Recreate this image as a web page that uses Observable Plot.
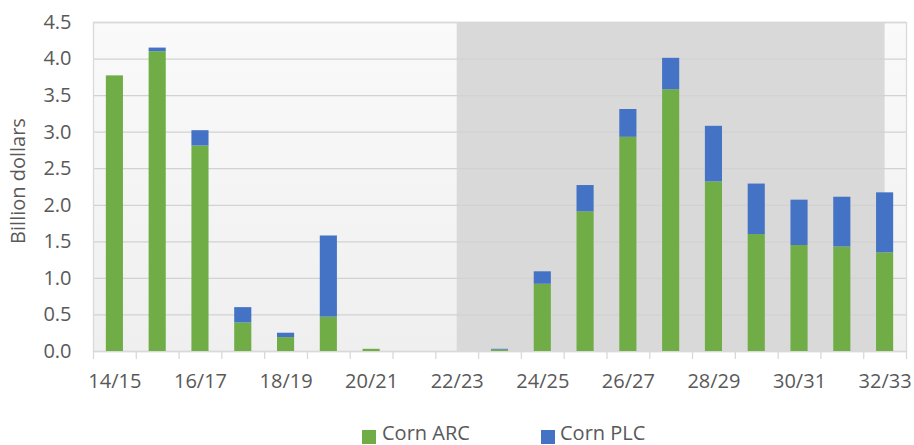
<!DOCTYPE html>
<html><head><meta charset="utf-8">
<script src="https://cdn.jsdelivr.net/npm/d3@7"></script>
<script src="https://cdn.jsdelivr.net/npm/@observablehq/plot@0.6"></script>
<style>
body{margin:0;background:#fff;font-family:"Open Sans",sans-serif;}
#wrap{position:relative;width:914px;height:445px;overflow:hidden;background:#fff;}
#chart svg{display:block;}
.lg-sw{position:absolute;width:14px;height:14px;top:430px;}
.lg-tx{position:absolute;top:423px;font-size:20px;line-height:20px;color:#595959;white-space:nowrap;}
</style></head>
<body><div id="wrap"><div id="chart"></div><div id="legend"></div></div>
<script>
const categories = ["14/15","15/16","16/17","17/18","18/19","19/20","20/21","21/22","22/23","23/24","24/25","25/26","26/27","27/28","28/29","29/30","30/31","31/32","32/33"];
const cornARC = [3.77, 4.10, 2.81, 0.39, 0.19, 0.47, 0.03, 0, 0, 0.02, 0.92, 1.91, 2.93, 3.58, 2.32, 1.60, 1.45, 1.43, 1.35];
const cornPLC = [0, 0.05, 0.21, 0.21, 0.06, 1.11, 0, 0, 0, 0.01, 0.17, 0.36, 0.38, 0.43, 0.76, 0.69, 0.62, 0.68, 0.82];
const seriesNames = ["Corn ARC", "Corn PLC"];
const seriesColors = ["#70AD47", "#4472C4"];
const yTicks = [0, 0.5, 1.0, 1.5, 2.0, 2.5, 3.0, 3.5, 4.0, 4.5];
const xTickLabels = ["14/15","16/17","18/19","20/21","22/23","24/25","26/27","28/29","30/31","32/33"];
const shadedCats = ["22/23","23/24","24/25","25/26","26/27","27/28","28/29","29/30","30/31","31/32","32/33"];
const yTitle = "Billion dollars";

const rows = [];
categories.forEach((c, i) => { rows.push({year: c, program: seriesNames[0], value: cornARC[i]}); });
categories.forEach((c, i) => { rows.push({year: c, program: seriesNames[1], value: cornPLC[i]}); });

const W = 914, H = 410, mL = 93, mR = 8, mT = 22, mB = 59;
const step = (W - mL - mR) / categories.length;

const chart = Plot.plot({
  width: W, height: H,
  marginLeft: mL, marginRight: mR, marginTop: mT, marginBottom: mB,
  style: {fontFamily: '"Open Sans", sans-serif', fontSize: "20px", color: "#595959", background: "transparent", overflow: "visible"},
  x: {type: "band", domain: categories, paddingInner: 0.6, paddingOuter: 0.3, align: 0.5, round: false,
      tickSize: 0, tickPadding: 22, label: null,
      tickFormat: d => xTickLabels.includes(d) ? d : ""},
  y: {domain: [0, 4.5], ticks: yTicks, tickFormat: d => d.toFixed(1), tickSize: 0, tickPadding: 22,
      label: null},
  color: {domain: seriesNames, range: seriesColors},
  marks: [
    Plot.frame({fill: "url(#plotBg)"}),
    Plot.areaY(shadedCats, {x: d => d, y1: 0, y2: 4.5, fill: "#d9d9d9"}),
    Plot.ruleY(yTicks, {stroke: "#d2d2d2", strokeWidth: 1.3}),
    Plot.frame({stroke: "#d9d9d9", strokeWidth: 1.3}),
    Plot.ruleX(categories, {x: d => d, y1: 0, y2: -0.11, dx: -step / 2, stroke: "#d9d9d9", strokeWidth: 1.3}),
    Plot.ruleX(categories.slice(-1), {x: d => d, y1: 0, y2: -0.11, dx: step / 2, stroke: "#d9d9d9", strokeWidth: 1.3}),
    Plot.barY(rows, {x: "year", y: "value", fill: "program"}),
    Plot.text([yTitle], {frameAnchor: "left", textAnchor: "middle", rotate: -90, dx: -75, dy: -6, fill: "#595959", fontSize: 20})
  ]
});

d3.select(chart).insert("defs", ":first-child").html(
  '<linearGradient id="plotBg" x1="0" y1="0" x2="0" y2="1">' +
  '<stop offset="0" stop-color="#fafafa"/><stop offset="1" stop-color="#efefef"/></linearGradient>');

document.getElementById("chart").appendChild(chart);

const legend = document.getElementById("legend");
const legendPos = [{sw: 362, tx: 382}, {sw: 541, tx: 560}];
seriesNames.forEach((name, i) => {
  const sw = document.createElement("div");
  sw.className = "lg-sw"; sw.style.left = legendPos[i].sw + "px"; sw.style.background = seriesColors[i];
  const tx = document.createElement("div");
  tx.className = "lg-tx"; tx.style.left = legendPos[i].tx + "px"; tx.textContent = name;
  legend.appendChild(sw); legend.appendChild(tx);
});
</script></body></html>
